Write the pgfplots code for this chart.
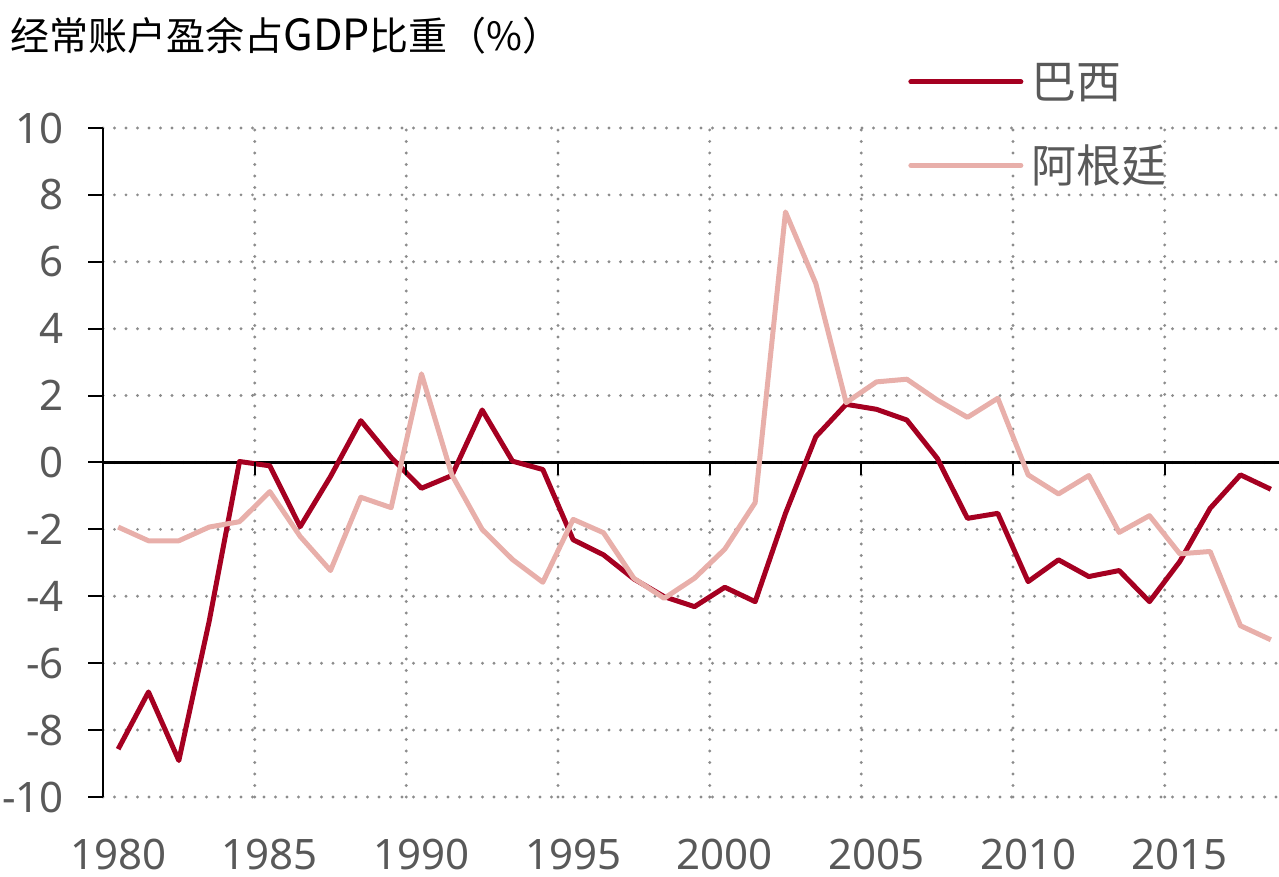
\documentclass[border=0pt]{standalone}
\usepackage{pgfplots}
\pgfplotsset{compat=1.18}
\usepackage{fontspec}
\setmainfont{Noto Sans}
\newfontfamily\cjk{Noto Sans CJK SC}
\definecolor{brz}{HTML}{A50021}
\definecolor{arg}{HTML}{E8AFAA}
\definecolor{lbl}{HTML}{595959}
\definecolor{grd}{HTML}{8C8C8C}
\begin{document}
\begin{tikzpicture}[x=1pt,y=1pt]
\path[use as bounding box] (-51.5,-40) rectangle (588,398.5);
\begin{axis}[
  at={(0,0)}, anchor=south west,
  scale only axis, width=588pt, height=334.5pt,
  xmin=1979.5, xmax=2018.27, ymin=-10, ymax=10,
  axis x line*=bottom, axis y line*=left,
  x axis line style={draw=none},
  y axis line style={black, line width=1pt},
  xtick={1980,1985,...,2015},
  xticklabels={1980,1985,1990,1995,2000,2005,2010,2015},
  minor xtick={1984.5,1989.5,1994.5,1999.5,2004.5,2009.5,2014.5},
  xminorgrids=true,
  ytick={-10,-8,...,10},
  ymajorgrids=true,
  major grid style={grd, line width=1.6pt, dash pattern=on 0pt off 5.75pt, line cap=round},
  minor grid style={grd, line width=1.6pt, dash pattern=on 0pt off 5.75pt, line cap=round},
  tick align=outside,
  major tick length=7.5pt, minor tick length=0pt,
  x tick style={draw=none},
  y tick style={black, line width=1pt},
  /pgf/number format/assume math mode=true,
  yticklabel style={font=\fontsize{21}{24}\selectfont, text=lbl, anchor=east, inner sep=0pt, xshift=-12pt},
  xticklabel style={font=\fontsize{21}{24}\selectfont, text=lbl, anchor=north, inner sep=0pt, yshift=-13.5pt},
  clip=false,
  legend style={draw=none, fill=none, inner sep=0pt, at={(0.6845,1.0055)}, anchor=west,
    font=\cjk\fontsize{22.5}{26}\selectfont, text=lbl, row sep=22pt,
    nodes={inner sep=0pt, text=lbl}},
  legend cell align=left,
  legend image code/.code={\draw[#1, line cap=round] (0pt,0pt) -- (55pt,0pt); \path (59pt,0pt);},
]
\draw[black, line width=1.1pt] (axis cs:1979.5,0) -- (axis cs:2018.27,0);
\addplot[brz, line width=2.5pt, line join=round] table {
x y
1980 -8.57
1981 -6.86
1982 -8.91
1983 -4.75
1984 0.03
1985 -0.10
1986 -1.92
1987 -0.42
1988 1.25
1989 0.15
1990 -0.77
1991 -0.39
1992 1.57
1993 0.04
1994 -0.21
1995 -2.31
1996 -2.76
1997 -3.48
1998 -4.01
1999 -4.31
2000 -3.73
2001 -4.16
2002 -1.52
2003 0.77
2004 1.74
2005 1.59
2006 1.27
2007 0.13
2008 -1.67
2009 -1.52
2010 -3.56
2011 -2.91
2012 -3.41
2013 -3.23
2014 -4.16
2015 -2.96
2016 -1.37
2017 -0.37
2018 -0.80
};
\addlegendentry{巴西}
\addplot[arg, line width=2.5pt, line join=round] table {
x y
1980 -1.93
1981 -2.34
1982 -2.34
1983 -1.93
1984 -1.77
1985 -0.87
1986 -2.21
1987 -3.23
1988 -1.04
1989 -1.35
1990 2.65
1991 -0.37
1992 -2.00
1993 -2.90
1994 -3.58
1995 -1.70
1996 -2.10
1997 -3.46
1998 -4.06
1999 -3.46
2000 -2.59
2001 -1.20
2002 7.49
2003 5.35
2004 1.79
2005 2.41
2006 2.49
2007 1.87
2008 1.35
2009 1.92
2010 -0.37
2011 -0.94
2012 -0.39
2013 -2.09
2014 -1.59
2015 -2.73
2016 -2.66
2017 -4.88
2018 -5.30
};
\addlegendentry{阿根廷}
\pgfplotsinvokeforeach{1984.5,1989.5,1994.5,1999.5,2004.5,2009.5,2014.5}{
  \draw[black, line width=1pt] (axis cs:#1,0) -- ++(0pt,-6.5pt);
}
\end{axis}
\node[anchor=west, font=\cjk\fontsize{19.5}{22}\selectfont, inner sep=0pt] at (-46.5,380.5) {经常账户盈余占{\fontsize{21.5}{22}\selectfont GDP}比重（\%）};
\end{tikzpicture}
\end{document}
